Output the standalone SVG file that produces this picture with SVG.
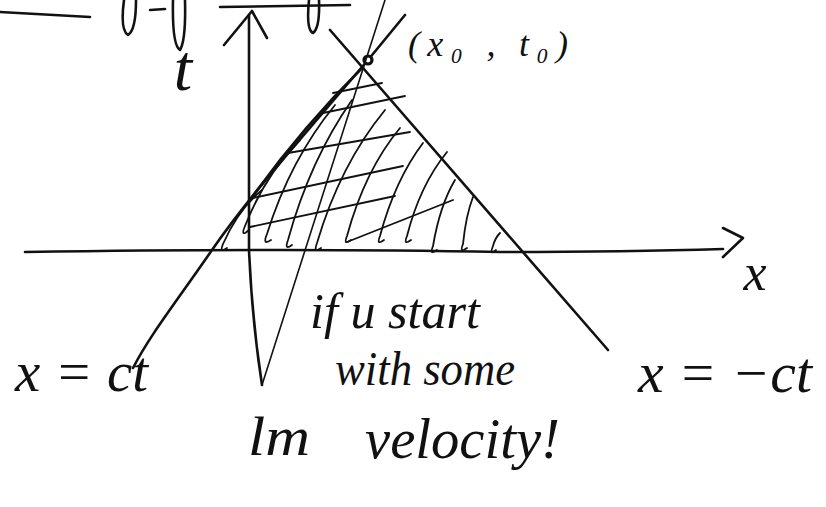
<svg xmlns="http://www.w3.org/2000/svg" width="826" height="507" viewBox="0 0 826 507">
<style>
.ink{fill:none;stroke:#111;stroke-linecap:round;stroke-linejoin:round}
.main{stroke-width:2.6}
.thin{stroke-width:1.6}
.hatch{stroke-width:1.8}
.lbl{font-family:"Liberation Serif","DejaVu Serif",serif;font-style:italic;fill:#111}
</style>
<rect width="826" height="507" fill="#fff"/>
<g id="top-fragments" class="ink main">
<path d="M0 12 L90 17"/>
<path d="M124 0 Q120 30 128 35 Q136 30 136 0"/>
<path d="M150 10 L165 9"/>
<path d="M173 0 Q172 45 180 50 Q186 40 185 0"/>
<path d="M220 7 L350 5"/>
<path d="M309 0 Q306 30 313 33 Q320 28 319 0"/>
</g>
<g id="axes" class="ink main">
<path d="M249 15 L249 250 Q252 320 262 385"/>
<path d="M224 45 L252 11 L267 38"/>
<path d="M25 252 Q300 248 500 252 Q620 252 723 249"/>
<path d="M723 228 L743 238 L723 257"/>
</g>
<g id="light-cone" class="ink main">
<path d="M405 15 L368 60 C300 140 250 195 212 250 S150 335 133 368"/>
<path d="M363 67 C310 120 275 165 250 200"/>
<path d="M330 30 L608 350"/>
<circle cx="368" cy="60" r="4" fill="#fff" stroke-width="3.2"/>
</g>
<g id="worldline" class="ink thin">
<path d="M385 0 L262 385"/>
</g>
<g id="hatching" class="ink hatch">
<path d="M227 248 Q219 254 223 244 Q238 210 262 190"/>
<path d="M249 230 Q240 238 245 226 Q265 175 300 140"/>
<path d="M271 240 Q262 246 267 234 Q290 160 335 105"/>
<path d="M292 245 Q284 251 288 240 Q310 160 352 100"/>
<path d="M321 248 Q313 254 317 243 Q340 165 385 110"/>
<path d="M351 240 Q343 246 347 236 Q365 170 400 128"/>
<path d="M384 240 Q376 246 380 236 Q395 180 423 143"/>
<path d="M411 240 Q403 246 407 236 Q420 185 447 152"/>
<path d="M437 250 Q429 256 433 246 Q440 205 455 180"/>
<path d="M467 248 Q459 254 463 244 Q466 215 473 197"/>
<path d="M496 250 Q489 256 493 246 Q495 238 500 233"/>
<path d="M333 93 L382 83"/>
<path d="M323 113 L405 96"/>
<path d="M288 153 L410 132"/>
<path d="M253 198 L403 166"/>
<path d="M250 227 L395 196"/>
<path d="M347 242 L453 200"/>
</g>
<g id="labels" class="lbl">
<text x="183" y="90" font-size="66" text-anchor="middle">t</text>
<text x="408" y="56" font-size="36" textLength="160" lengthAdjust="spacing">(x₀ , t₀)</text>
<text x="755" y="290" font-size="52" text-anchor="middle">x</text>
<text x="15" y="391" font-size="56" textLength="133" lengthAdjust="spacingAndGlyphs">x = ct</text>
<text x="638" y="392" font-size="56" textLength="174" lengthAdjust="spacingAndGlyphs">x = −ct</text>
<text x="310" y="328" font-size="50" textLength="170" lengthAdjust="spacingAndGlyphs">if u start</text>
<text x="335" y="385" font-size="48" textLength="180" lengthAdjust="spacingAndGlyphs">with some</text>
<text x="248" y="455" font-size="54" textLength="62" lengthAdjust="spacingAndGlyphs">lm</text>
<text x="365" y="458" font-size="58" textLength="195" lengthAdjust="spacingAndGlyphs">velocity!</text>
</g>
</svg>
